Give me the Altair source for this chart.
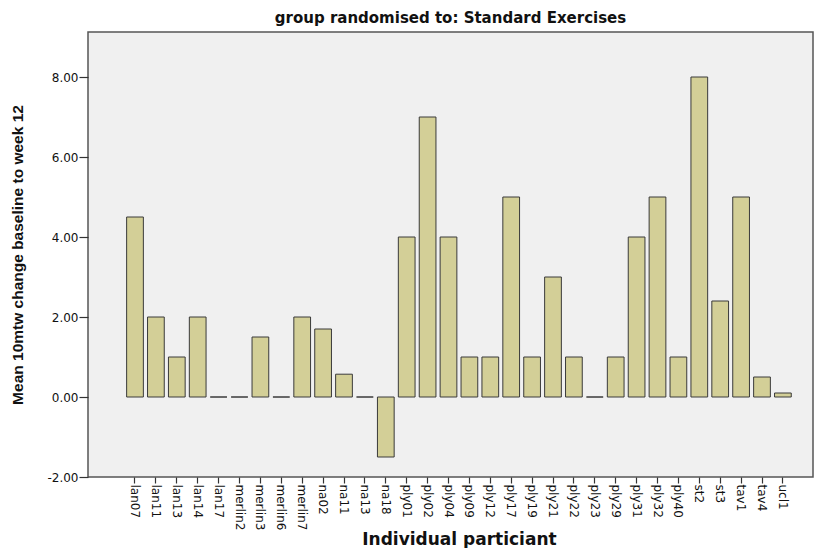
import altair as alt
import pandas as pd

participants = ["lan07", "lan11", "lan13", "lan14", "lan17", "merlin2", "merlin3", "merlin6",
                "merlin7", "na02", "na11", "na13", "na18", "ply01", "ply02", "ply04", "ply09",
                "ply12", "ply17", "ply19", "ply21", "ply22", "ply23", "ply29", "ply31", "ply32",
                "ply40", "st2", "st3", "tav1", "tav4", "ucl1"]
mean_change = [4.5, 2.0, 1.0, 2.0, 0.0, 0.0, 1.5, 0.0,
               2.0, 1.7, 0.57, 0.0, -1.5, 4.0, 7.0, 4.0, 1.0,
               1.0, 5.0, 1.0, 3.0, 1.0, 0.0, 1.0, 4.0, 5.0,
               1.0, 8.0, 2.4, 5.0, 0.5, 0.1]
y_ticks = [-2, 0, 2, 4, 6, 8]

df = pd.DataFrame({"participant": participants, "value": mean_change})

font = "DejaVu Sans"
arial = "Liberation Sans"

chart = alt.Chart(df).mark_bar(
    fill="#D3CF97", stroke="#3a3a3a", strokeWidth=1
).encode(
    x=alt.X("participant:N", sort=participants,
            scale=alt.Scale(range=[36.55, 705.35], paddingInner=0.2, paddingOuter=0.1),
            axis=alt.Axis(title="Individual particiant", labelAngle=90, domain=False,
                          tickColor="#333", tickSize=6, tickWidth=1.2, labelPadding=1,
                          labelFont=font, labelFontSize=12, labelColor="#111",
                          titleFont=font, titleFontSize=17, titleFontWeight="bold",
                          titleColor="#111", titlePadding=2)),
    y=alt.Y("value:Q",
            scale=alt.Scale(domain=[-2, 9.125], nice=False, zero=False),
            axis=alt.Axis(title="Mean 10mtw change baseline to week 12", values=y_ticks,
                          labelExpr="replace(format(datum.value, '.2f'), '\u2212', '-')",
                          grid=False, domain=False, tickColor="#333",
                          tickSize=9, tickWidth=1.2, labelPadding=1,
                          labelFont=font, labelFontSize=12, labelColor="#111",
                          titleFont=arial, titleFontSize=15.5, titleFontWeight="bold",
                          titleColor="#111", titlePadding=21)),
).properties(
    width=725, height=445,
    title=alt.TitleParams("group randomised to: Standard Exercises", font=font,
                          fontSize=15, fontWeight="bold", color="#111", offset=6),
    autosize=alt.AutoSizeParams(type="none"),
    padding={"left": 80, "top": 24, "right": 1, "bottom": 71},
    background="white",
).configure_view(
    fill="#F0F0F0", stroke="#555555", strokeWidth=1.5
)

chart.save("out.html", embed_options={"renderer": "svg", "actions": False})
